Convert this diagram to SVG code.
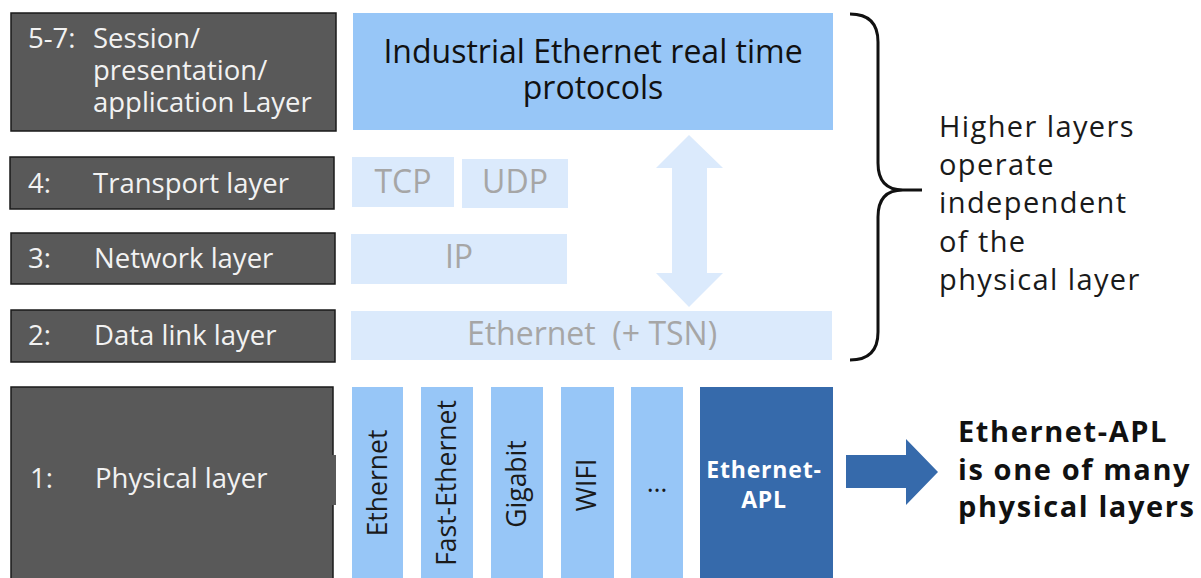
<svg xmlns="http://www.w3.org/2000/svg" width="1201" height="578" viewBox="0 0 1201 578">
<style>
.osi{fill:#595959;stroke:#1a1a1a;stroke-width:1.5}
.lbl{font-family:"Open Sans","Noto Sans",sans-serif;font-size:27.5px;fill:#f2f2f2}
.mid{fill:#97c6f7}
.lt{fill:#dbeafc}
.gt{font-family:"Open Sans","Noto Sans",sans-serif;font-size:32px;fill:#a6a6a6;text-anchor:middle}
.vt{font-family:"Open Sans","Noto Sans",sans-serif;font-size:26.5px;fill:#1a1a1a;text-anchor:middle}
.dk{fill:#366aab}
.bt{font-family:"Open Sans","Noto Sans",sans-serif;font-weight:bold;fill:#111;font-size:29px;letter-spacing:1.6px}
.wt{font-family:"Open Sans","Noto Sans",sans-serif;font-weight:bold;fill:#fff;font-size:23px;letter-spacing:0.8px;text-anchor:middle}
.rt{font-family:"Open Sans","Noto Sans",sans-serif;font-size:29px;letter-spacing:1.4px;fill:#1a1a1a}
</style>
<rect width="1201" height="578" fill="#fff"/>
<g id="layer57">
<rect class="osi" x="11" y="13" width="325" height="118"/>
<text class="lbl" x="28" y="47.5">5-7:</text>
<text class="lbl"><tspan x="93" y="47.5">Session/</tspan><tspan x="93" y="80">presentation/</tspan><tspan x="93" y="112">application Layer</tspan></text>
</g>
<g id="layer4">
<rect class="osi" x="10" y="157" width="324" height="52"/>
<text class="lbl" x="28" y="192.5">4:</text>
<text class="lbl" x="93" y="192.5">Transport layer</text>
</g>
<g id="layer3">
<rect class="osi" x="11" y="233" width="324" height="51"/>
<text class="lbl" x="28" y="268">3:</text>
<text class="lbl" x="94" y="268">Network layer</text>
</g>
<g id="layer2">
<rect class="osi" x="11" y="310" width="324" height="52"/>
<text class="lbl" x="28" y="345">2:</text>
<text class="lbl" x="94" y="345">Data link layer</text>
</g>
<g id="layer1">
<rect class="osi" x="11" y="387" width="322" height="200"/>
<rect x="330" y="455" width="6" height="50" fill="#595959"/>
<text class="lbl" x="30" y="488">1:</text>
<text class="lbl" x="95" y="488">Physical layer</text>
</g>
<g id="iert">
<rect class="mid" x="353" y="13" width="480" height="117"/>
<text font-family="Open Sans, Noto Sans, sans-serif" font-size="32" fill="#111" text-anchor="middle"><tspan x="593" y="63">Industrial Ethernet real time</tspan><tspan x="593" y="99">protocols</tspan></text>
</g>
<g id="tcp">
<rect class="lt" x="352" y="157" width="102" height="50"/>
<text class="gt" x="403" y="193">TCP</text>
</g>
<g id="udp">
<rect class="lt" x="462" y="159" width="106" height="49"/>
<text class="gt" x="515" y="193">UDP</text>
</g>
<g id="ip">
<rect class="lt" x="351" y="234" width="216" height="50"/>
<text class="gt" x="459" y="268">IP</text>
</g>
<g id="eth">
<rect class="lt" x="351" y="311" width="481" height="49"/>
<text class="gt" x="592" y="345" xml:space="preserve">Ethernet  (+ TSN)</text>
</g>
<g id="connectors">
<polygon class="lt" points="689,135 723,168 707,168 707,273 723,273 689,307 656,273 672,273 672,168 656,168"/>
<polygon class="dk" points="846,455 906,455 906,439 938,472 906,505 906,488 846,488"/>
<path d="M850,14 Q878,14 878,42 L878,163 Q878,190 903,190 L922,190 M903,190 Q878,190 878,217 L878,332 Q878,360 850,360" fill="none" stroke="#111" stroke-width="3"/>
</g>
<g id="phy-ethernet">
<rect class="mid" x="352" y="387" width="51" height="200"/>
<text class="vt" transform="translate(387,483) rotate(-90)">Ethernet</text>
</g>
<g id="phy-fast">
<rect class="mid" x="421" y="387" width="52" height="200"/>
<text class="vt" transform="translate(456,483) rotate(-90)">Fast-Ethernet</text>
</g>
<g id="phy-gigabit">
<rect class="mid" x="491" y="387" width="52" height="200"/>
<text class="vt" transform="translate(526,484) rotate(-90)">Gigabit</text>
</g>
<g id="phy-wifi">
<rect class="mid" x="561" y="387" width="53" height="200"/>
<text class="vt" transform="translate(596,485) rotate(-90)">WIFI</text>
</g>
<g id="phy-more">
<rect class="mid" x="631" y="387" width="52" height="200"/>
<text class="vt" x="657" y="492">…</text>
</g>
<g id="phy-apl">
<rect class="dk" x="700" y="387" width="133" height="200"/>
<text class="wt"><tspan x="764" y="478">Ethernet-</tspan><tspan x="764" y="508">APL</tspan></text>
</g>
<g id="note-apl">
<text class="bt"><tspan x="958" y="442">Ethernet-APL</tspan><tspan x="958" y="480">is one of many</tspan><tspan x="958" y="517">physical layers</tspan></text>
</g>
<g id="note-higher">
<text class="rt"><tspan x="939" y="137">Higher layers</tspan><tspan x="939" y="175">operate</tspan><tspan x="939" y="213">independent</tspan><tspan x="939" y="252">of the</tspan><tspan x="939" y="290">physical layer</tspan></text>
</g>
</svg>
